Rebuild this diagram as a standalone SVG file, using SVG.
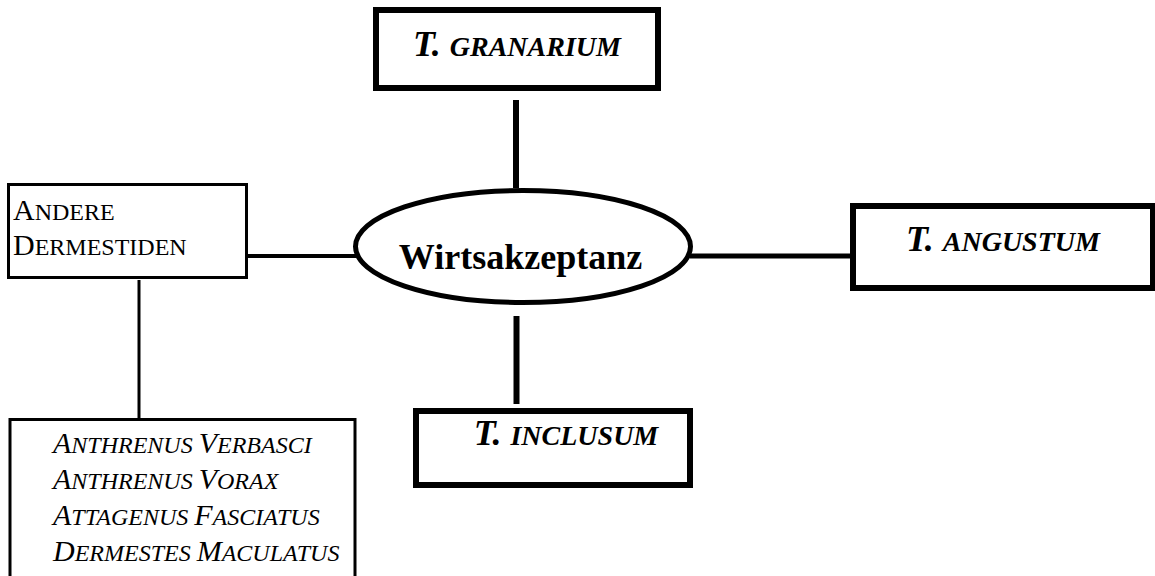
<svg xmlns="http://www.w3.org/2000/svg" width="1155" height="576" viewBox="0 0 1155 576">
<style>
.box{fill:#fff;stroke:#000}
.thick{stroke-width:6}
.thin{stroke-width:3}
.t{font-family:"Liberation Serif","Times New Roman",serif;fill:#000}
.bi{font-weight:bold;font-style:italic;font-size:36px}
.sc{font-size:28px}
.it{font-style:italic;font-size:30px}
.up{font-size:30px}
.s{font-size:24px}
.conn line{stroke:#000}
</style>
<rect width="1155" height="576" fill="#fff"/>
<g class="conn">
<line x1="516" y1="100" x2="516" y2="188" stroke-width="6"/>
<line x1="516.5" y1="316" x2="516.5" y2="404" stroke-width="6"/>
<line x1="247" y1="256" x2="356" y2="256" stroke-width="4"/>
<line x1="690" y1="256" x2="851" y2="256" stroke-width="5"/>
<line x1="139" y1="280" x2="139" y2="420" stroke-width="3"/>
</g>
<g id="granarium">
<rect class="box thick" x="376" y="10" width="282" height="78"/>
<text class="t bi" x="517" y="56" text-anchor="middle">T. <tspan class="sc">GRANARIUM</tspan></text>
</g>
<g id="wirtsakzeptanz">
<ellipse cx="523" cy="246.5" rx="167.5" ry="56" fill="#fff" stroke="#000" stroke-width="5"/>
<text class="t" x="520.5" y="269" text-anchor="middle" font-weight="bold" font-size="36">Wirtsakzeptanz</text>
</g>
<g id="angustum">
<rect class="box thick" x="853" y="206" width="300" height="82"/>
<text class="t bi" x="1003" y="251" text-anchor="middle">T. <tspan class="sc">ANGUSTUM</tspan></text>
</g>
<g id="inclusum">
<rect class="box thick" x="416" y="411" width="274" height="74"/>
<text class="t bi" x="566" y="445" text-anchor="middle">T. <tspan class="sc">INCLUSUM</tspan></text>
</g>
<g id="andere">
<rect class="box thin" x="8.5" y="184.5" width="238" height="93"/>
<text class="t up" x="13" y="220">A<tspan class="s">NDERE</tspan></text>
<text class="t up" x="13" y="255">D<tspan class="s">ERMESTIDEN</tspan></text>
</g>
<g id="arten">
<rect class="box thin" x="10" y="419.5" width="345" height="170"/>
<text class="t it" x="53" y="453">A<tspan class="s">NTHRENUS </tspan>V<tspan class="s">ERBASCI</tspan></text>
<text class="t it" x="53" y="489">A<tspan class="s">NTHRENUS </tspan>V<tspan class="s">ORAX</tspan></text>
<text class="t it" x="53" y="525">A<tspan class="s">TTAGENUS </tspan>F<tspan class="s">ASCIATUS</tspan></text>
<text class="t it" x="53" y="561">D<tspan class="s">ERMESTES </tspan>M<tspan class="s">ACULATUS</tspan></text>
</g>
</svg>
